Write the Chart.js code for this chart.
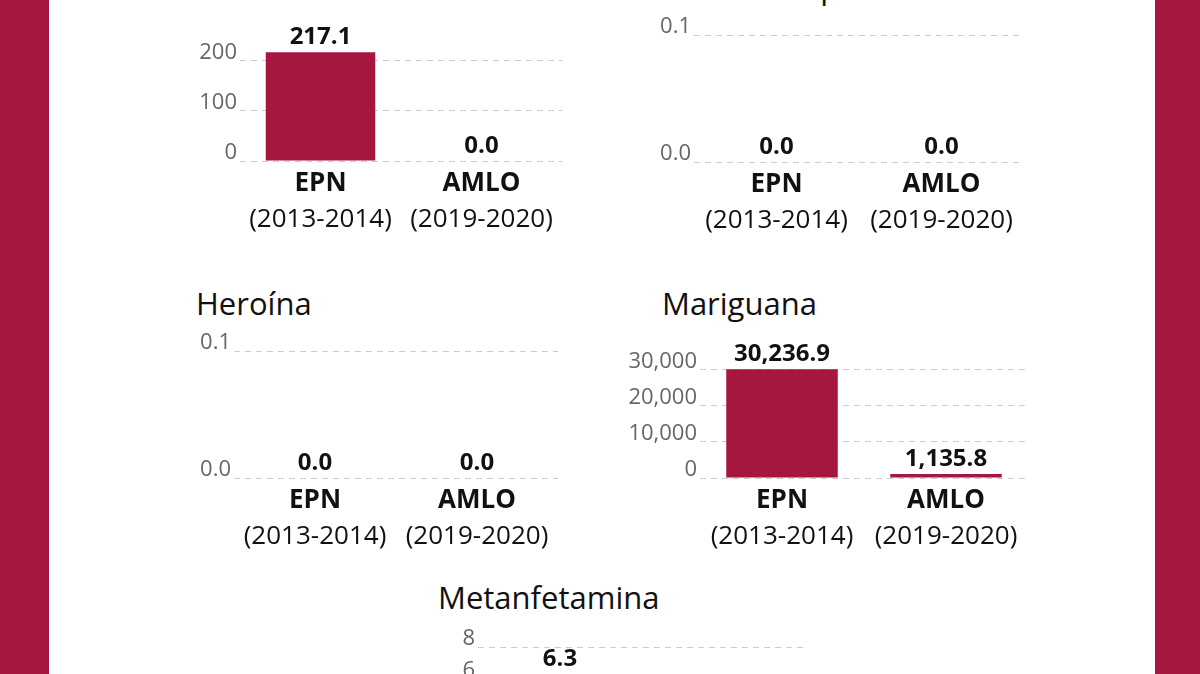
<!DOCTYPE html>
<html lang="es">
<head>
<meta charset="utf-8">
<script src="https://cdn.jsdelivr.net/npm/chart.js@4.4.1/dist/chart.umd.min.js"></script>
<style>
  html, body { margin: 0; padding: 0; }
  body { width: 1200px; height: 674px; overflow: hidden; background: #fff; position: relative; font-family: "Open Sans", sans-serif; }
  .side { position: absolute; top: 0; bottom: 0; background: #a6173f; }
  .title { position: absolute; font-size: 31px; line-height: 31px; color: #111; white-space: nowrap; }
  canvas { position: absolute; }
</style>
</head>
<body>
<div class="side" style="left:0;width:49px"></div>
<div class="side" style="left:1155px;width:45px"></div>

<script>
// ---------- Data ----------
const periods = ["EPN", "AMLO"];
const periodYears = ["(2013-2014)", "(2019-2020)"];

const cocainaValues = [217.1, 0.0];
const cocainaTicks = [0, 100, 200];

const opioValues = [0.0, 0.0];
const opioTicks = [0, 0.1];

const heroinaValues = [0.0, 0.0];
const heroinaTicks = [0, 0.1];

const mariguanaValues = [30236.9, 1135.8];
const mariguanaTicks = [0, 10000, 20000, 30000];

const metanfetaminaValues = [6.3, 1.0]; // AMLO bar is cut off in the picture
const metanfetaminaTicks = [0, 2, 4, 6, 8];

// ---------- Layout (plot box of each panel, page pixels) ----------
const CRIMSON = "#a6173f";
const FONT = "'Open Sans', sans-serif";
const Y_W = 110, TOP_PAD = 44, RIGHT_PAD = 24, X1_H = 43, X2_H = 42;

const panels = {
  cocaina:       { left: 240, right: 562,  top: 34,  bottom: 161, titleX: 196, baseline: -2 },
  opio:          { left: 694, right: 1024, top: 35,  bottom: 162, titleX: 662, baseline: -1 },
  heroina:       { left: 234, right: 558,  top: 351, bottom: 478, titleX: 196, baseline: 315 },
  mariguana:     { left: 700, right: 1028, top: 351, bottom: 478, titleX: 662, baseline: 315 },
  metanfetamina: { left: 478, right: 806,  top: 647, bottom: 774, titleX: 438, baseline: 609 }
};

// ---------- Helpers ----------
function fmt(v, d) {
  return Number(v).toLocaleString("en-US", { minimumFractionDigits: d, maximumFractionDigits: d });
}

const valueLabels = {
  id: "valueLabels",
  afterDatasetsDraw(chart) {
    const ctx = chart.ctx;
    const meta = chart.getDatasetMeta(0);
    ctx.save();
    ctx.font = "bold 24px " + FONT;
    ctx.fillStyle = "#111";
    ctx.textAlign = "center";
    ctx.textBaseline = "alphabetic";
    meta.data.forEach((bar, i) => {
      ctx.fillText(fmt(chart.data.datasets[0].data[i], 1), bar.x, bar.y - 8);
    });
    ctx.restore();
  }
};

function drawPanel(key, title, values, ticks, yMax, tickDecimals) {
  const box = panels[key];
  const plotH = box.bottom - box.top;
  const w = box.right - box.left + Y_W + RIGHT_PAD;
  const h = TOP_PAD + plotH + X1_H + X2_H;

  const t = document.createElement("div");
  t.className = "title";
  t.textContent = title;
  t.style.left = box.titleX + "px";
  t.style.top = (box.baseline - 27.5) + "px";
  document.body.appendChild(t);

  const canvas = document.createElement("canvas");
  canvas.width = w;
  canvas.height = h;
  canvas.style.left = (box.left - Y_W) + "px";
  canvas.style.top = (box.top - TOP_PAD) + "px";
  document.body.appendChild(canvas);

  new Chart(canvas, {
    type: "bar",
    data: {
      labels: periods,
      datasets: [{ data: values, backgroundColor: CRIMSON, barPercentage: 0.68, categoryPercentage: 1 }]
    },
    options: {
      responsive: false,
      animation: false,
      layout: { padding: { top: TOP_PAD, right: RIGHT_PAD, left: 0, bottom: 0 } },
      plugins: { legend: { display: false }, tooltip: { enabled: false } },
      scales: {
        x: {
          offset: true,
          grid: { display: false, drawTicks: false },
          border: { display: false },
          ticks: { color: "#111", padding: 7, font: { family: FONT, size: 26, weight: "bold" } },
          afterFit: s => { s.height = X1_H; }
        },
        x2: {
          type: "category",
          labels: periodYears,
          position: "bottom",
          offset: true,
          grid: { display: false, drawTicks: false },
          border: { display: false },
          ticks: { color: "#111", padding: 0, font: { family: FONT, size: 26 } },
          afterFit: s => { s.height = X2_H; }
        },
        y: {
          min: 0,
          max: yMax,
          afterBuildTicks: s => { s.ticks = ticks.map(v => ({ value: v })); },
          grid: { color: "#cccccc", lineWidth: 1, drawTicks: false },
          border: { display: false, dash: [6, 5] },
          ticks: {
            color: "#666",
            padding: 3,
            labelOffset: -8,
            font: { family: FONT, size: 22 },
            callback: v => fmt(v, tickDecimals)
          },
          afterFit: s => { s.width = Y_W; }
        }
      }
    },
    plugins: [valueLabels]
  });
}

// ---------- Panels ----------
drawPanel("cocaina", "Cocaína", cocainaValues, cocainaTicks, 253.3, 0);
drawPanel("opio", "Goma de opio", opioValues, opioTicks, 0.1, 1);
drawPanel("heroina", "Heroína", heroinaValues, heroinaTicks, 0.1, 1);
drawPanel("mariguana", "Mariguana", mariguanaValues, mariguanaTicks, 35277, 0);
drawPanel("metanfetamina", "Metanfetamina", metanfetaminaValues, metanfetaminaTicks, 8, 0);
</script>
</body>
</html>
